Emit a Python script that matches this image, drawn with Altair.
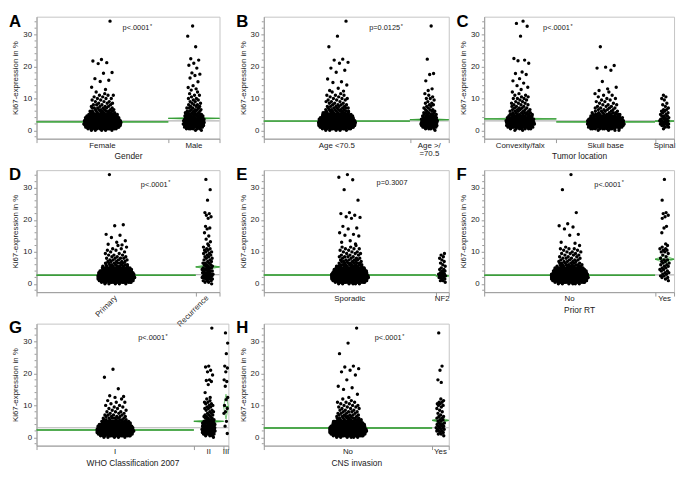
import altair as alt
import numpy as np
import pandas as pd

# ---------------- shared value grid / axis values ----------------
LEVELS = [0, 0.5, 1, 1.5, 2, 2.5, 3, 3.5, 4, 4.5, 5, 5.5, 6, 6.5, 7, 7.5, 8, 8.5,
          9, 9.5, 10, 10.5, 11, 11.5, 12]
Y_MAJOR = [0, 10, 20, 30]
Y_MINOR = [-2, 2, 4, 6, 8, 12, 14, 16, 18, 22, 24, 26, 28, 32, 34]
Y_DOMAIN = [-2.6, 35.6]

# ---------------- A: Gender ----------------
A_LABELS = ["Female", "Male"]
A_FRACS = [0.72, 0.28]
A_MEANS = [2.65, 3.75]
A_CI = [0.15, 0.35]
A_GREY = 2.95
A_FEMALE_BODY = [5, 14, 30, 36, 42, 39, 36, 28, 25, 20, 16, 8, 8, 6, 6, 4, 4, 3, 3, 2, 3, 2, 3, 1, 1]
A_FEMALE_TAIL = [34.2, 22.2, 21.7, 21.2, 20.9, 18.1, 17.9, 16.2, 15.7, 15.3, 13.5, 12.8]
A_MALE_BODY = [2, 6, 11, 14, 17, 15, 14, 12, 11, 9, 8, 5, 5, 4, 4, 3, 3, 2, 2, 2, 2, 1, 2, 1, 1]
A_MALE_TAIL = [32.7, 29.5, 26.2, 22.4, 22.0, 21.0, 20.4, 19.5, 18.0, 17.6, 17.2, 16.4, 15.2,
               14.0, 13.4, 13.0, 12.6]

# ---------------- B: Age ----------------
B_LABELS = ["Age <70.5", "Age >/\n=70.5"]
B_FRACS = [0.79, 0.21]
B_MEANS = [2.9, 3.35]
B_CI = [0.12, 0.4]
B_GREY = 2.95
B_YOUNG_BODY = [5, 15, 34, 39, 45, 42, 38, 31, 27, 21, 16, 9, 8, 7, 6, 5, 4, 3, 3, 3, 3, 2, 3, 1, 1]
B_YOUNG_TAIL = [34.2, 29.5, 26.2, 22.3, 22.0, 21.3, 21.0, 19.5, 18.8, 18.2, 16.1, 15.2, 15.0,
                14.2, 13.2, 12.5, 12.3]
B_OLD_BODY = [1, 4, 8, 11, 13, 13, 11, 10, 8, 7, 5, 4, 3, 3, 2, 2, 2, 2, 1, 1, 2, 1, 1, 1, 0]
B_OLD_TAIL = [32.7, 22.3, 17.8, 17.5, 15.5, 13.0, 12.5]

# ---------------- C: Tumor location ----------------
C_LABELS = ["Convexity/falx", "Skull base", "Spinal"]
C_FRACS = [0.38, 0.52, 0.10]
C_MEANS = [3.6, 2.65, 2.9]
C_CI = [0.3, 0.2, 0.6]
C_GREY = 2.95
C_CONV_BODY = [2, 7, 14, 18, 21, 20, 18, 15, 14, 11, 9, 6, 5, 5, 4, 3, 3, 3, 2, 2, 3, 2, 2, 1, 1]
C_CONV_TAIL = [34.2, 33.5, 32.6, 29.5, 22.5, 22.0, 21.8, 21.0, 18.3, 17.8, 17.5, 16.2, 15.5,
               14.8, 14.0, 13.5, 12.8]
C_SKULL_BODY = [4, 11, 22, 27, 31, 28, 25, 20, 17, 14, 11, 6, 5, 4, 4, 3, 3, 2, 2, 2, 2, 1, 2, 1, 1]
C_SKULL_TAIL = [26.2, 20.3, 19.8, 19.5, 18.8, 15.3, 13.5, 13.0, 12.5]
C_SPINAL_BODY = [0, 1, 2, 3, 4, 4, 4, 3, 3, 3, 2, 2, 2, 2, 1, 1, 1, 1, 0, 1, 1, 1, 1, 0, 0]
C_SPINAL_TAIL = []

# ---------------- D: Primary / Recurrence ----------------
D_LABELS = ["Primary", "Recurrence"]
D_FRACS = [0.87, 0.13]
D_MEANS = [2.7, 5.3]
D_CI = [0.12, 0.8]
D_GREY = 2.9
D_PRIM_BODY = [5, 17, 36, 42, 46, 42, 38, 29, 25, 20, 15, 8, 7, 6, 5, 4, 4, 3, 3, 2, 2, 2, 2, 1, 1]
D_PRIM_TAIL = [34.2, 18.5, 18.2, 15.5, 15.2, 14.5, 13.5, 13.0, 12.4, 12.2]
D_REC_BODY = [1, 2, 3, 4, 5, 5, 5, 4, 4, 4, 4, 3, 3, 3, 2, 2, 2, 2, 2, 2, 2, 2, 2, 1, 1]
D_REC_TAIL = [32.7, 29.5, 26.2, 22.3, 22.0, 21.5, 21.0, 20.5, 18.0, 17.5, 17.2, 16.0, 15.0,
              14.0, 13.2, 12.5]

# ---------------- E: Sporadic / NF2 ----------------
E_LABELS = ["Sporadic", "NF2"]
E_FRACS = [0.93, 0.07]
E_MEANS = [2.75, 2.5]
E_CI = [0.12, 0.7]
E_GREY = 2.75
E_SPOR_BODY = [6, 17, 39, 45, 50, 46, 42, 34, 28, 22, 18, 10, 9, 7, 6, 5, 4, 4, 3, 3, 3, 2, 3, 2, 1]
E_SPOR_TAIL = [34.2, 33.4, 32.6, 29.5, 26.2, 22.3, 22.0, 21.5, 21.0, 20.8, 20.5, 18.0, 17.5,
               17.2, 16.0, 15.5, 15.2, 15.0, 13.5, 13.0, 12.5]
E_NF2_BODY = [0, 1, 2, 2, 3, 3, 3, 2, 2, 2, 1, 1, 1, 1, 1, 1, 1, 1, 1, 1, 0, 0, 0, 0, 0]
E_NF2_TAIL = []

# ---------------- F: Prior RT ----------------
F_LABELS = ["No", "Yes"]
F_FRACS = [0.90, 0.10]
F_MEANS = [2.7, 7.7]
F_CI = [0.12, 1.2]
F_GREY = 2.8
F_NO_BODY = [6, 17, 38, 43, 48, 43, 39, 31, 27, 21, 17, 9, 8, 6, 5, 4, 4, 3, 3, 3, 3, 2, 3, 1, 1]
F_NO_TAIL = [34.2, 29.5, 22.3, 18.8, 18.2, 17.8, 17.2, 15.5, 15.2, 13.0, 12.7]
F_YES_BODY = [0, 0, 1, 1, 2, 2, 2, 2, 2, 2, 2, 2, 2, 2, 2, 2, 1, 1, 1, 1, 2, 2, 2, 1, 1]
F_YES_TAIL = [32.7, 26.2, 22.3, 22.0, 21.5, 21.0, 20.5, 18.0, 17.5, 16.0, 12.5]

# ---------------- G: WHO Classification 2007 ----------------
G_LABELS = ["I", "II", "III"]
G_FRACS = [0.82, 0.155, 0.025]
G_MEANS = [2.3, 5.0, 9.6]
G_CI = [0.1, 0.5, 3.9]
G_GREY = 3.0
G_I_BODY = [5, 17, 38, 43, 48, 42, 36, 28, 24, 18, 14, 7, 6, 5, 4, 3, 3, 2, 2, 2, 2, 1, 2, 1, 1]
G_I_TAIL = [21.3, 18.8, 15.2, 13.0, 12.8, 12.5]
G_II_BODY = [1, 3, 7, 8, 10, 10, 8, 8, 7, 7, 5, 4, 3, 3, 3, 2, 2, 2, 2, 2, 2, 2, 2, 1, 1]
G_II_TAIL = [34.2, 22.3, 22.0, 21.0, 20.5, 19.5, 18.0, 17.8, 17.5, 16.5, 14.0, 12.5]
G_III_BODY = [0, 0, 0, 0, 0, 0, 0, 0, 0, 0, 0, 0, 0, 0, 0, 0, 0, 0, 0, 0, 0, 0, 0, 0, 0]
G_III_TAIL = [32.7, 29.5, 26.2, 22.3, 21.7, 20.5, 18.0, 17.5, 16.0, 12.5, 11.8, 10.0, 9.0,
              8.0, 7.5, 5.0, 3.5, 1.2]

# ---------------- H: CNS invasion ----------------
H_LABELS = ["No", "Yes"]
H_FRACS = [0.91, 0.09]
H_MEANS = [2.9, 5.3]
H_CI = [0.1, 0.9]
H_GREY = 3.0
H_NO_BODY = [6, 18, 39, 45, 49, 45, 39, 31, 27, 21, 17, 9, 8, 6, 5, 4, 4, 3, 3, 3, 3, 2, 3, 1, 1]
H_NO_TAIL = [34.2, 29.5, 26.2, 22.3, 22.0, 21.5, 21.0, 20.5, 19.5, 18.0, 16.0, 15.5, 15.0,
             13.5, 12.5]
H_YES_BODY = [0, 1, 2, 2, 3, 3, 3, 3, 3, 2, 2, 2, 2, 2, 1, 1, 1, 1, 1, 1, 2, 2, 2, 1, 1]
H_YES_TAIL = [32.7, 22.3, 21.0, 18.0, 17.2]

# p-value annotations: text, significance star, x (fraction), y (value)
P_TEXT = {"A": "p<.0001", "B": "p=0.0125", "C": "p<.0001", "D": "p<.0001",
          "E": "p=0.3007", "F": "p<.0001", "G": "p<.0001", "H": "p<.0001"}
P_STAR = {"A": True, "B": True, "C": True, "D": True, "E": False, "F": True, "G": True, "H": True}
P_X = {"A": 0.47, "B": 0.57, "C": 0.31, "D": 0.57, "E": 0.61, "F": 0.58, "G": 0.53, "H": 0.60}
P_Y = {"A": 32.0, "B": 32.0, "C": 32.0, "D": 31.0, "E": 31.5, "F": 31.0, "G": 31.0, "H": 31.0}

FONT = "Liberation Sans"
GREEN = "#3a9e3a"
GREEN_LIGHT = "#6cc06c"
GREY_LINE = "#b5b5b5"
AX = "#9a9a9a"
HEIGHT = 124

CHAR_W = {"p": 0.556, "<": 0.584, "=": 0.584, ".": 0.278}


def text_width(s, size):
    return sum(CHAR_W.get(c, 0.556) for c in s) * size


def panel(letter, labels, fracs, means, cis, grey, bodies, tails, xtitle, width,
          rotate=False):
    bounds = [0.0]
    for f in fracs:
        bounds.append(bounds[-1] + f)
    bounds[-1] = 1.0

    pts, groups, diamonds = [], [], []
    for gi, (lab, f, m, ci, body, tail) in enumerate(zip(labels, fracs, means, cis, bodies, tails)):
        x0, x1 = bounds[gi], bounds[gi + 1]
        xc = (x0 + x1) / 2
        vals = [lv for lv, c in zip(LEVELS, body) for _ in range(c)] + list(tail)
        vals = np.asarray(vals, dtype=float)
        if len(vals):
            wpx = f * width
            hw = min(19.0, 0.18 * wpx + 1.5)
            cnt = np.array([(np.abs(vals - v) <= 1.0).sum() for v in vals])
            fac = np.clip((cnt / cnt.max()) ** 0.25, 0.6, 1.0)
            u = ((np.arange(len(vals)) + 1) * 0.6180339887 + 0.37 * gi) % 1.0
            xs = xc + (2 * u - 1) * hw * fac / width
            for xv, yv in zip(xs, vals):
                pts.append({"x": float(xv), "y": float(yv)})
        groups.append({"x": x0, "x2": x1, "xc": xc, "y": m, "label": lab})
        for k, (xx, yy) in enumerate([(x0, m), (xc, m + ci), (x1, m), (xc, m - ci), (x0, m)]):
            diamonds.append({"x": xx, "y": yy, "k": k, "g": lab})

    xscale = alt.Scale(domain=[0, 1], nice=False, zero=False)
    yscale = alt.Scale(domain=Y_DOMAIN, nice=False, zero=False)
    xaxis = alt.Axis(values=bounds, labels=False, tickSize=4, title=xtitle,
                     titlePadding=9, titleFontSize=8.5, titleFontWeight="normal", grid=False)
    yaxis = alt.Axis(values=Y_MAJOR, title="Ki67-expression in %", tickSize=3, labelPadding=2,
                     labelFontSize=8, titleFontSize=8, titlePadding=3,
                     titleFontWeight="normal", grid=False)

    def X(f):
        return alt.X(f, scale=xscale, axis=xaxis)

    def Y(f):
        return alt.Y(f, scale=yscale, axis=yaxis)

    gdf = pd.DataFrame(groups)
    grey_l = alt.Chart(pd.DataFrame([{"x": 0.0, "x2": 1.0, "y": grey}])).mark_rule(
        color=GREY_LINE, strokeWidth=1.2).encode(x=X("x:Q"), x2="x2:Q", y=Y("y:Q"))
    diam = alt.Chart(pd.DataFrame(diamonds)).mark_line(
        color=GREEN_LIGHT, strokeWidth=0.9).encode(
        x=X("x:Q"), y=Y("y:Q"), order="k:Q", detail="g:N")
    green = alt.Chart(gdf).mark_rule(color=GREEN, strokeWidth=1.4).encode(
        x=X("x:Q"), x2="x2:Q", y=Y("y:Q"))
    points = alt.Chart(pd.DataFrame(pts)).mark_circle(
        size=12, color="black", opacity=1).encode(x=X("x:Q"), y=Y("y:Q"))
    if rotate:
        lab = alt.Chart(gdf).mark_text(fontSize=8, angle=315, align="right",
                                       baseline="middle", color="#1a1a1a").encode(
            x=X("xc:Q"), y=alt.value(HEIGHT + 5), text="label:N")
    else:
        lab = alt.Chart(gdf).mark_text(fontSize=8, baseline="top", align="center",
                                       lineBreak="\n", lineHeight=9, color="#1a1a1a").encode(
            x=X("xc:Q"), y=alt.value(HEIGHT + 3), text="label:N")
    let = alt.Chart(pd.DataFrame({"t": [letter]})).mark_text(
        fontSize=17, fontWeight="bold", align="left", baseline="top", color="black").encode(
        x=alt.value(-28), y=alt.value(-3), text="t:N")
    pdf = pd.DataFrame([{"x": P_X[letter], "y": P_Y[letter], "t": P_TEXT[letter]}])
    ptxt = alt.Chart(pdf).mark_text(fontSize=7.5, align="left", baseline="middle",
                                    color="#1a1a1a").encode(
        x=X("x:Q"), y=Y("y:Q"), text="t:N")
    minor = alt.Chart(pd.DataFrame({"y": Y_MINOR})).mark_rule(color=AX).encode(
        y=Y("y:Q"), x=alt.value(0), x2=alt.value(-2))
    layers = [grey_l, diam, green, points, lab, let, ptxt, minor]
    if P_STAR[letter]:
        star = alt.Chart(pdf).mark_text(
            fontSize=5.5, align="left", baseline="middle", color="#1a1a1a",
            dx=text_width(P_TEXT[letter], 7.5) + 0.5, dy=-2.5).encode(
            x=X("x:Q"), y=Y("y:Q"), text=alt.value("*"))
        layers.append(star)
    return alt.layer(*layers).properties(width=width, height=HEIGHT)


pA = panel("A", A_LABELS, A_FRACS, A_MEANS, A_CI, A_GREY,
           [A_FEMALE_BODY, A_MALE_BODY], [A_FEMALE_TAIL, A_MALE_TAIL], "Gender", 186)
pB = panel("B", B_LABELS, B_FRACS, B_MEANS, B_CI, B_GREY,
           [B_YOUNG_BODY, B_OLD_BODY], [B_YOUNG_TAIL, B_OLD_TAIL], "", 188)
pC = panel("C", C_LABELS, C_FRACS, C_MEANS, C_CI, C_GREY,
           [C_CONV_BODY, C_SKULL_BODY, C_SPINAL_BODY],
           [C_CONV_TAIL, C_SKULL_TAIL, C_SPINAL_TAIL], "Tumor location", 193)
pD = panel("D", D_LABELS, D_FRACS, D_MEANS, D_CI, D_GREY,
           [D_PRIM_BODY, D_REC_BODY], [D_PRIM_TAIL, D_REC_TAIL], "", 186, rotate=True)
pE = panel("E", E_LABELS, E_FRACS, E_MEANS, E_CI, E_GREY,
           [E_SPOR_BODY, E_NF2_BODY], [E_SPOR_TAIL, E_NF2_TAIL], "", 188)
pF = panel("F", F_LABELS, F_FRACS, F_MEANS, F_CI, F_GREY,
           [F_NO_BODY, F_YES_BODY], [F_NO_TAIL, F_YES_TAIL], "Prior RT", 193)
pG = panel("G", G_LABELS, G_FRACS, G_MEANS, G_CI, G_GREY,
           [G_I_BODY, G_II_BODY, G_III_BODY], [G_I_TAIL, G_II_TAIL, G_III_TAIL],
           "WHO Classification 2007", 195)
pH = panel("H", H_LABELS, H_FRACS, H_MEANS, H_CI, H_GREY,
           [H_NO_BODY, H_YES_BODY], [H_NO_TAIL, H_YES_TAIL], "CNS invasion", 188)

chart = alt.concat(
    pA, pB, pC, pD, pE, pF, pG, pH,
    columns=3, bounds="flush", align="none",
    spacing=alt.RowColnumber(row=32, column=36),
).properties(
    padding=0
).configure(font=FONT).configure_view(
    stroke="#c4c4c4", strokeWidth=1
).configure_axis(
    domainColor=AX, tickColor=AX, labelColor="#1a1a1a", titleColor="#1a1a1a",
    labelFont=FONT, titleFont=FONT
)

chart.save("out.html", embed_options={"renderer": "svg", "actions": False})
